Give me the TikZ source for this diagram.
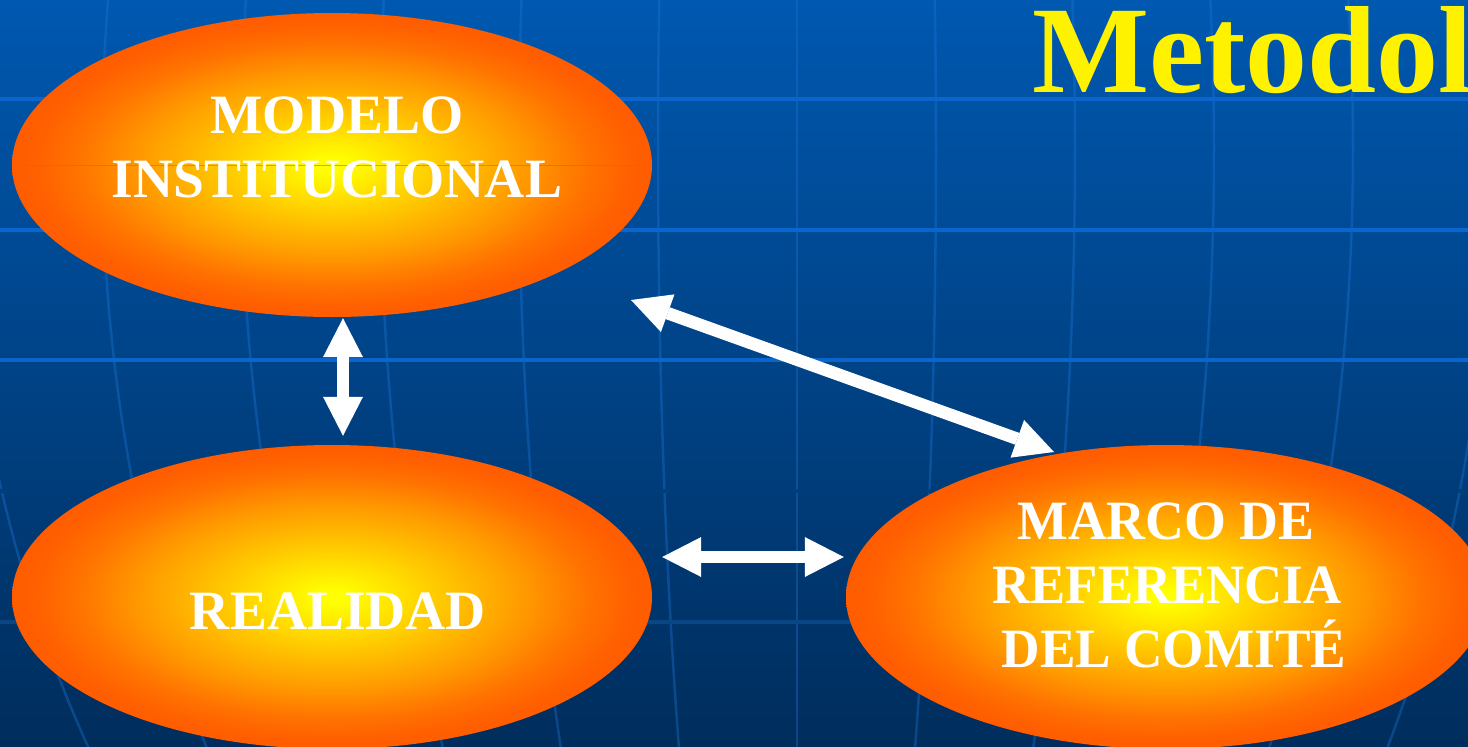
\documentclass[tikz,border=0pt]{standalone}
\usepackage{fontspec}
\setmainfont{Liberation Serif}
\usetikzlibrary{shapes.geometric,arrows.meta,calc}
\definecolor{bgtop}{HTML}{0058B0}
\definecolor{bgbot}{HTML}{002D5C}
\definecolor{gridhi}{HTML}{0A66CC}
\definecolor{gridlo}{HTML}{0A4584}
\definecolor{gridmid}{HTML}{003D7A}
\definecolor{meridc}{HTML}{1E78DC}
\definecolor{ycore}{HTML}{FFFF00}
\definecolor{oy}{HTML}{FFE600}
\definecolor{oa}{HTML}{FFCC00}
\definecolor{ob}{HTML}{FF9A00}
\definecolor{oc}{HTML}{FF7400}
\definecolor{od}{HTML}{FF6000}
\definecolor{oedge}{HTML}{FF5C00}
\pgfdeclareradialshading{ellshade}{\pgfpointorigin}{color(0bp)=(ycore); color(1bp)=(ycore); color(4.5bp)=(oy); color(8bp)=(oa); color(15bp)=(ob); color(19.75bp)=(oc); color(23.25bp)=(od); color(25bp)=(oedge); color(50bp)=(oedge)}
\begin{document}
\begin{tikzpicture}[x=1pt,y=-1pt,
  ell/.style={ellipse, minimum width=640pt, minimum height=304pt, inner sep=0pt, shading=ellshade},
  lbl/.style={text=white, font=\fontsize{55.5}{64}\selectfont\bfseries, anchor=base, inner sep=0pt},
  dbl/.style={draw=white, line width=12.5pt,
    {Triangle[length=39pt,width=40pt,line width=0pt]}-{Triangle[length=39pt,width=40pt,line width=0pt]}},
  meridian/.style={draw=meridc, draw opacity=0.35, line width=2.5pt},
  gridline/.style={draw=gridhi, line width=4pt},
  titlestyle/.style={text=yellow, font=\fontsize{124}{124}\selectfont\bfseries, anchor=base west, inner sep=0pt}]
\useasboundingbox (0,0) rectangle (1468,747);
\clip (0,0) rectangle (1468,747);
\shade[top color=bgtop, bottom color=bgbot] (0,0) rectangle (1468,747);
% meridians
\foreach \k in {-6,...,5} {
  \draw[meridian] plot[domain=-10:760, samples=40, variable=\t]
    ({797+139*\k*sqrt(1-((\t-150)/1133)^2)}, {\t});
}
% parallels
\foreach \yy in {99,230,360} { \draw[gridline] (0,\yy) -- (1468,\yy); }
\draw[draw=gridmid, line width=4pt] (0,491) -- (1468,491);
\draw[draw=gridlo, line width=4pt] (0,622) -- (1468,622);
% ellipses
\node[ell] (m) at (332,165) {};
\node[ell] (r) at (332,597) {};
\node[ell] (c) at (1166,597) {};
\draw[line width=1pt, draw=gray, draw opacity=0.6] (m.west) -- (m.east);
% labels
\node[lbl] (m1) at (337,133) {MODELO};
\node[lbl] (m2) at (337,197) {INSTITUCIONAL};
\node[lbl] (r1) at (338,629) {REALIDAD};
\node[lbl, xscale=0.97] (c1) at (1166,539) {MARCO DE};
\node[lbl, xscale=0.95] (c2) at (1167,603) {REFERENCIA};
\node[lbl, xscale=0.96] (c3) at (1174,667) {DEL COMITÉ};
% arrows
\draw[dbl] ($(m.south)+(11,1)$) -- ($(r.north)+(11,-9)$);
\draw[dbl] ($(r.east)+(10,-40)$) -- ($(c.west)+(-2,-40)$);
\draw[dbl] ($(m.center)+(299,135)$) -- ($(c.center)+(-112,-145)$);
% title
\node[titlestyle] (t) at (1032,92) {Metodol};
\end{tikzpicture}
\end{document}
